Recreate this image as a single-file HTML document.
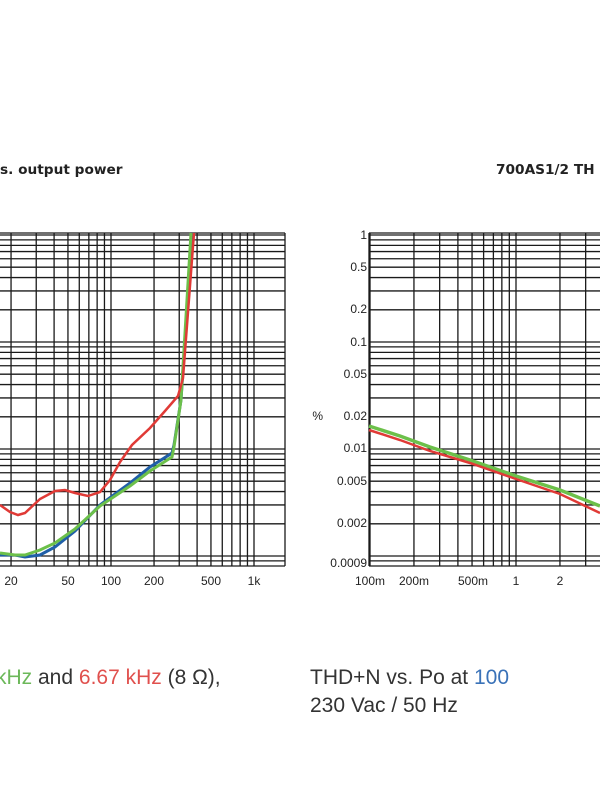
<!DOCTYPE html>
<html><head><meta charset="utf-8"><style>
body{margin:0;width:600px;height:800px;background:#fff;overflow:hidden;font-family:"Liberation Sans","DejaVu Sans",sans-serif}
svg{position:absolute;left:0;top:0}
</style></head><body>
<svg id="s" width="600" height="800" xmlns="http://www.w3.org/2000/svg">
<text x="0" y="174" font-family="DejaVu Sans, sans-serif" font-weight="bold" font-size="13.7" fill="#222">s. output power</text>
<text x="496" y="174" font-family="DejaVu Sans, sans-serif" font-weight="bold" font-size="13.7" fill="#222">700AS1/2 TH</text>
<g id="grid" stroke="#1a1a1a" stroke-width="1.3"></g>
<g font-size="12" fill="#222" text-anchor="middle">
<text x="11" y="585">20</text><text x="68" y="585">50</text><text x="111" y="585">100</text><text x="154" y="585">200</text><text x="211" y="585">500</text><text x="254" y="585">1k</text>
<text x="370" y="585">100m</text><text x="414" y="585">200m</text><text x="473" y="585">500m</text><text x="516" y="585">1</text><text x="560" y="585">2</text>
</g>
<g font-size="12" fill="#222" text-anchor="end">
<text x="367" y="239">1</text><text x="367" y="271">0.5</text><text x="367" y="313">0.2</text><text x="367" y="346">0.1</text><text x="367" y="378">0.05</text><text x="367" y="420">0.02</text><text x="367" y="452">0.01</text><text x="367" y="485">0.005</text><text x="367" y="527">0.002</text><text x="367" y="567">0.0009</text>
<text x="323" y="420">%</text>
</g>
<polyline fill="none" stroke="#1f5fa8" stroke-width="3" points="0,555 15,555 25,557 40,555 55,547 75,531 100,505 130,483 150,467 172,453 174,445 181,400 192,233"/>
<polyline fill="none" stroke="#6cc04a" stroke-width="3" points="0,553 15,555 25,555 40,550 55,543 75,529 100,506 130,486 150,471 172,457 174,447 181,400 191,233"/>
<polyline fill="none" stroke="#e03a36" stroke-width="2.5" points="0,505 10,512 18,515 25,513 40,499 55,491 65,490 75,493 88,496 100,492 110,480 120,462 132,445 150,428 165,411 178,396 183,378 194,233"/>
<polyline fill="none" stroke="#6cc04a" stroke-width="3.5" points="369,426 400,436 430,447 470,460 516,476 560,490 600,506"/>
<polyline fill="none" stroke="#e03a36" stroke-width="2.5" points="369,430 400,440 430,451 470,463 516,479 560,494 600,513"/>
<g font-size="21" fill="#333">
<text x="-4" y="684"><tspan fill="#6cb85a">kHz</tspan> and <tspan fill="#e0504d">6.67 kHz</tspan> (8 Ω),</text>
<text x="310" y="684">THD+N vs. Po at <tspan fill="#3a72b8">100</tspan></text>
<text x="310" y="712">230 Vac / 50 Hz</text>
</g>
</svg>
<script>
var g=document.getElementById('grid'),h='';
function L(x1,y1,x2,y2){h+='<line x1="'+x1+'" y1="'+y1+'" x2="'+x2+'" y2="'+y2+'"/>';}
for(var d=-4;d<=0;d++)for(var k=1;k<10;k++){var v=k*Math.pow(10,d);var y=235-107*Math.log10(v);if(y>=233&&y<=566){L(0,y,285,y);L(369,y,600,y);}}
L(0,233,285,233);L(0,566,285,566);L(369,233,600,233);L(369,566,600,566);
for(var d=1;d<=3;d++)for(var k=1;k<10;k++){var f=k*Math.pow(10,d);var x=111+143*Math.log10(f/100);if(x>=0&&x<=285)L(x,233,x,566);}
L(285,233,285,566);
for(var d=-1;d<=1;d++)for(var k=1;k<10;k++){var p=k*Math.pow(10,d);var x=516+146*Math.log10(p);if(x>=369&&x<=600)L(x,233,x,566);}
L(369,233,369,566);
g.innerHTML=h;
</script>
</body></html>
